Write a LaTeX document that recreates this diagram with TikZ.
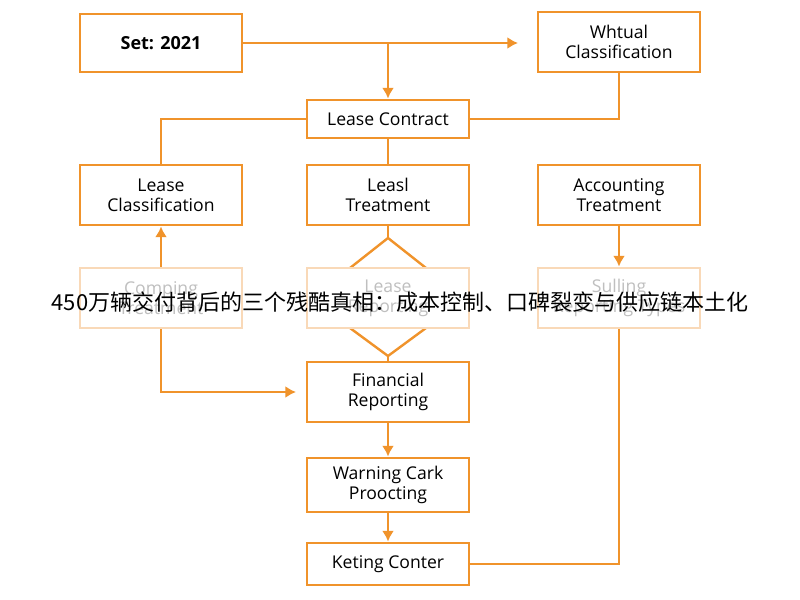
\documentclass[tikz,border=0pt]{standalone}
\usepackage{fontspec}
\setmainfont{Open Sans}
\newfontfamily\cjk{Noto Sans CJK SC}
\definecolor{org}{HTML}{F0932B}
\definecolor{fad}{HTML}{F9D9B8}
\begin{document}
\begin{tikzpicture}[x=0.75pt,y=-0.75pt,
 box/.style={draw=org,line width=2.2pt,fill=white,minimum width=121.5pt,align=center,font=\fontsize{13.2}{15}\selectfont,inner sep=0pt},
 fbox/.style={box,draw=fad,text=black!25},
 ln/.style={draw=org,line width=1.8pt},
 ar/.style={ln,-{Latex[length=8pt,width=9pt]}}]
\usetikzlibrary{arrows.meta}
\useasboundingbox (0,0) rectangle (800,600);
\fill[white] (0,0) rectangle (800,600);
\node[box,minimum height=43.5pt,font=\bfseries\fontsize{13.5}{15}\selectfont] (set) at (161,43) {Set: 2021};
\node[box,minimum height=45pt] (wht) at (619,42) {Whtual\\Classification};
\node[box,minimum height=28.5pt] (lc) at (388,119) {Lease Contract};
\node[box,minimum height=45pt] (lcl) at (161,195) {Lease\\Classification};
\node[box,minimum height=45pt] (lt) at (388,195) {Leasl\\Treatment};
\node[box,minimum height=45pt] (at) at (619,195) {Accounting\\Treatment};
\node[fbox,minimum height=45pt] (cp) at (161,298) {Comping\\Treatment};
\node[fbox,minimum height=45pt] (su) at (619,298) {Sulling\\Reporting Types};
\coordinate (dt) at (388,238); \coordinate (db) at (388,356);
\draw[draw=org,line width=1.8pt] (350,268) -- (dt) -- (426,268);
\draw[draw=org,line width=1.8pt] (350,328) -- (db) -- (426,328);
\node[fbox,minimum height=45pt] (lp) at (388,298) {Lease\\Reporting};
\node[box,minimum height=45pt] (fr) at (388,392) {Financial\\Reporting};
\node[box,minimum height=40.5pt] (wc) at (388,485) {Warning Cark\\Proocting};
\node[box,minimum height=31.5pt] (kc) at (388,564) {Keting Conter};
\coordinate (a1) at (518,43);
\draw[ar] (set.east) -- (a1);
\draw[ar] (set.east -| lc.north) -- (lc.north);
\draw[ln] (wht.south) |- (lc.east);
\draw[ln] (lc.west) -| (lcl.north);
\draw[ln] (lc.south) -- (lt.north);
\draw[ln] (lt.south) -- (dt);
\draw[ln] (db) -- (fr.north);
\draw[ar] (cp.north) -- (lcl.south);
\coordinate (a2) at (296,392);
\draw[ar] (cp.south) |- (a2);
\draw[ar] (at.south) -- (su.north);
\draw[ln] (su.south) |- (kc.east);
\draw[ar] (fr.south) -- (wc.north);
\draw[ar] (wc.south) -- (kc.north);
\node[font=\cjk\fontsize{16.5}{18}\selectfont] (ov) at (400,302) {450万辆交付背后的三个残酷真相：成本控制、口碑裂变与供应链本土化};
\end{tikzpicture}
\end{document}
